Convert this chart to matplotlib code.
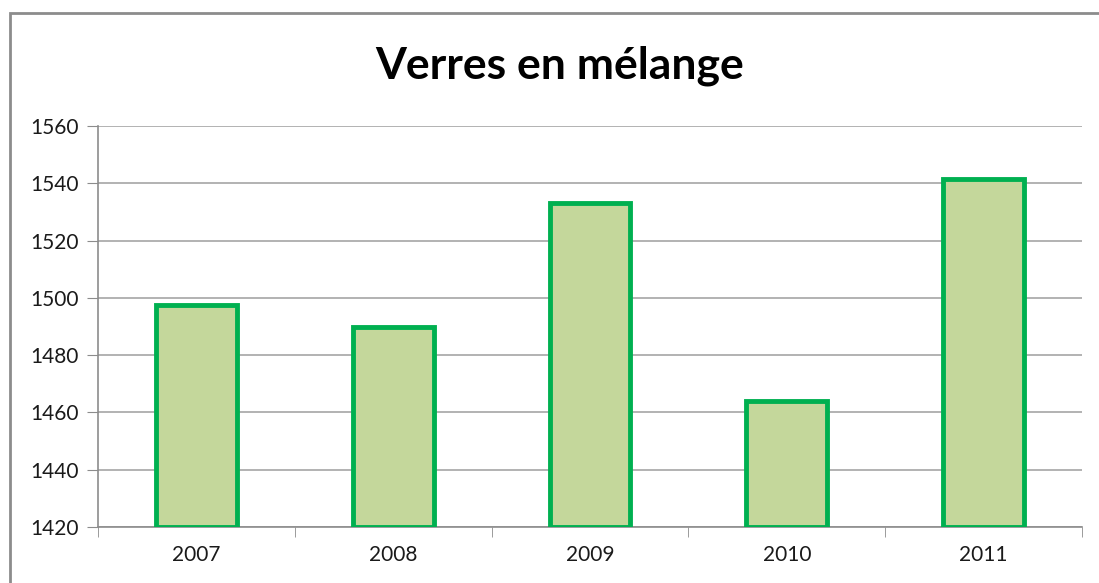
import matplotlib.pyplot as plt
from matplotlib.patches import Rectangle

years = ['2007', '2008', '2009', '2010', '2011']
values = [1497.5, 1490, 1533, 1464, 1541.5]
y_ticks = [1420, 1440, 1460, 1480, 1500, 1520, 1540, 1560]

plt.rcParams['font.family'] = ['Lato', 'DejaVu Sans']

W, H = 1099, 583
fig = plt.figure(figsize=(W / 100, H / 100), dpi=100)
ax = fig.add_axes([98 / W, 1 - 527 / H, (1082 - 98) / W, (527 - 126) / H])

# outer chart frame (goes off the picture on the right and bottom)
fig.patches.append(Rectangle((10 / W, -0.1), 1.2, 1 - 13 / H + 0.1,
                             transform=fig.transFigure, fill=False,
                             edgecolor='#8c8c8c', linewidth=2))

x = range(len(years))
ax.bar(x, [v - 1420 for v in values], bottom=1420, width=0.41,
       color='#c4d79b', edgecolor='#00b050', linewidth=3.5, zorder=3)

ax.set_xlim(-0.5, len(years) - 0.5)
ax.set_ylim(1420, 1560)
ax.set_yticks(y_ticks)
ax.set_yticklabels([str(t) for t in y_ticks], fontsize=15, color='#1a1a1a')
ax.set_xticks(list(x))
ax.set_xticklabels(years, fontsize=15, color='#1a1a1a')
ax.set_xticks([i - 0.5 for i in range(len(years) + 1)], minor=True)
ax.tick_params(axis='x', which='major', length=0, pad=13)
ax.tick_params(axis='x', which='minor', length=7, color='#8c8c8c', direction='out')
ax.tick_params(axis='y', length=8, color='#8c8c8c', direction='out', pad=6)

ax.grid(axis='y', color='#a6a6a6', linewidth=1.2, zorder=0)
for s in ['top', 'right']:
    ax.spines[s].set_visible(False)
for s in ['left', 'bottom']:
    ax.spines[s].set_color('#8c8c8c')
    ax.spines[s].set_linewidth(1.2)

fig.text(560 / W, 1 - 66 / H, 'Verres en mélange', fontsize=32,
         fontweight='bold', ha='center', va='center')

fig.savefig('out.png', dpi=100)
